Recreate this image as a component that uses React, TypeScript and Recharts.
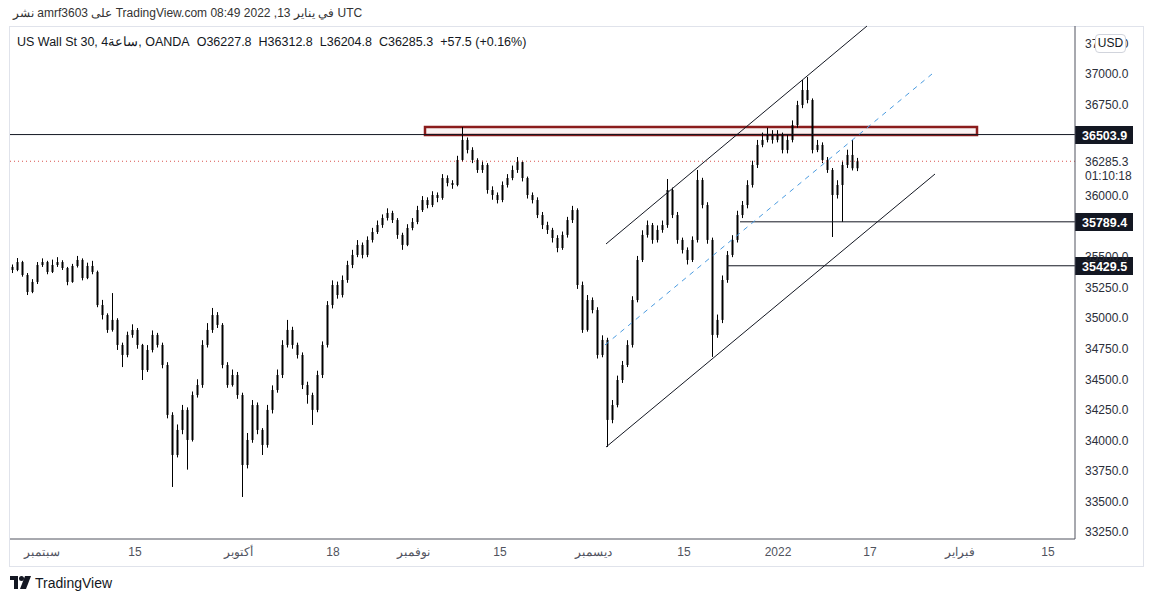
import { ComposedChart, Bar, XAxis, YAxis, ReferenceLine, ReferenceArea } from 'recharts'

// 4h candles (open = previous close)
const FIRST_OPEN = 35420
const CLOSE = [
  35395, 35460, 35354, 35215, 35297, 35436, 35460, 35379, 35436, 35460,
  35411, 35297, 35428, 35477, 35329, 35428, 35379, 35108, 35026, 34904,
  34986, 34781, 34699, 34863, 34904, 34781, 34576, 34740, 34863, 34781,
  34617, 34208, 33880, 34085, 34249, 34003, 34371, 34453, 34781, 34904,
  35026, 34945, 34617, 34453, 34535, 34371, 33798, 34003, 34289, 34085,
  33962, 34249, 34412, 34535, 34781, 34904, 34781, 34699, 34453, 34371,
  34249, 34535, 34781, 35108, 35272, 35190, 35313, 35436, 35518, 35600,
  35518, 35641, 35706, 35763, 35821, 35862, 35804, 35682, 35600, 35739,
  35788, 35886, 35968, 35927, 36009, 35985, 36148, 36107, 36091, 36296,
  36460, 36378, 36296, 36214, 36255, 36050, 36009, 35968, 36091, 36148,
  36214, 36279, 36148, 36009, 35968, 35845, 35763, 35723, 35657, 35575,
  35682, 35804, 35886, 35272, 34904, 35149, 35067, 34699, 34822, 34167,
  34289, 34494, 34617, 34781, 35149, 35477, 35682, 35763, 35641, 35723,
  35763, 36050, 35845, 35641, 35559, 35477, 35641, 36132, 35927, 35641,
  34863, 34986, 35313, 35518, 35641, 35845, 35927, 36091, 36255, 36419,
  36460, 36500, 36460, 36500, 36378, 36460, 36582, 36746, 36869, 36787,
  36378, 36419, 36296, 36214, 36009, 36091, 36255, 36337, 36228, 36285.3,
]
const HIGH = [
  35440, 35493, 35470, 35370, 35320, 35460, 35490, 35470, 35480, 35500,
  35475, 35420, 35445, 35510, 35490, 35455, 35470, 35390, 35150, 35040,
  35206, 35000, 34800, 34890, 34950, 34920, 34790, 34780, 34900, 34880,
  34800, 34640, 34230, 34130, 34290, 34270, 34400, 34500, 34820, 34960,
  35084, 35050, 34960, 34640, 34580, 34560, 34390, 34060, 34330, 34310,
  34100, 34290, 34450, 34580, 34820, 34986, 34930, 34800, 34720, 34480,
  34390, 34570, 34810, 35140, 35310, 35300, 35350, 35470, 35560, 35640,
  35620, 35670, 35740, 35800, 35850, 35900, 35880, 35820, 35700, 35770,
  35820, 35920, 36000, 35990, 36040, 36030, 36180, 36170, 36130, 36330,
  36566, 36480, 36400, 36310, 36290, 36270, 36080, 36030, 36120, 36180,
  36250, 36320, 36290, 36160, 36030, 35990, 35870, 35790, 35740, 35680,
  35710, 35830, 35920, 35900, 35300, 35190, 35170, 35090, 34860, 34840,
  34330, 34530, 34650, 34820, 35180, 35510, 35720, 35800, 35780, 35760,
  35800, 36140, 36070, 35870, 35660, 35580, 35670, 36214, 36150, 35950,
  35660, 35030, 35350, 35550, 35680, 35880, 35960, 36130, 36290, 36460,
  36520, 36560, 36540, 36540, 36520, 36500, 36620, 36780, 36951, 36975,
  36800, 36460, 36440, 36320, 36230, 36130, 36290, 36380, 36460, 36312.8,
]
const LOW = [
  35370, 35385, 35340, 35190, 35205, 35280, 35420, 35360, 35370, 35420,
  35395, 35270, 35290, 35415, 35310, 35320, 35360, 35090, 34990, 34880,
  34890, 34740, 34600, 34680, 34840, 34750, 34494, 34560, 34720, 34760,
  34590, 34180, 33618, 33860, 34050, 33760, 33990, 34350, 34430, 34760,
  34880, 34920, 34590, 34430, 34440, 34340, 33536, 33770, 33980, 34050,
  33880, 33940, 34220, 34390, 34510, 34760, 34750, 34670, 34420, 34300,
  34126, 34230, 34510, 34760, 35080, 35160, 35170, 35290, 35410, 35500,
  35490, 35500, 35620, 35690, 35740, 35800, 35780, 35650, 35560, 35590,
  35720, 35770, 35870, 35900, 35910, 35950, 35970, 36080, 36060, 36080,
  36280, 36350, 36270, 36190, 36190, 36020, 35970, 35940, 35950, 36070,
  36130, 36190, 36120, 35980, 35940, 35820, 35730, 35690, 35620, 35540,
  35560, 35660, 35780, 35240, 34880, 34890, 35040, 34670, 34680, 33946,
  34140, 34270, 34470, 34600, 34760, 35130, 35460, 35660, 35610, 35620,
  35700, 35740, 35820, 35610, 35530, 35440, 35460, 35620, 35900, 35610,
  34683, 34840, 34960, 35290, 35500, 35620, 35820, 35900, 36070, 36230,
  36400, 36440, 36430, 36440, 36350, 36350, 36440, 36560, 36720, 36760,
  36350, 36360, 36270, 36190, 35665, 35980, 35788, 36230, 36210, 36204.8,
]

// x axis: candle-index positions of the date labels
const X_TICKS = [6, 24.6, 45.2, 64.2, 80.2, 97.6, 116.2, 134.4, 153.2, 171.6, 189.6, 207.2]
const X_LABELS = ['سبتمبر', '15', 'أكتوبر', '18', 'نوفمبر', '15', 'ديسمبر', '15', '2022', '17', 'فبراير', '15']
const Y_TICKS = [
  33250, 33500, 33750, 34000, 34250, 34500, 34750, 35000, 35250, 35500,
  36000, 36750, 37000, 37250,
]

// drawings
const RESISTANCE = 36503.9
const SUPPORT_HIGH = 35789.4
const SUPPORT_LOW = 35429.5
const LAST_PRICE = 36285.3
const SUPPORT_HIGH_FROM = 145.6
const SUPPORT_LOW_FROM = 143
const ZONE = { x1: 82.6, x2: 193, y1: 36500, y2: 36566 }
const CHANNEL_TOP = [{ x: 118.8, y: 35608 }, { x: 171, y: 37393 }]
const CHANNEL_BOTTOM = [{ x: 118.8, y: 33945 }, { x: 184.6, y: 36181 }]
const CHANNEL_MID = [{ x: 118.6, y: 34781 }, { x: 184, y: 37000 }]

const X_MAX = 212.6
const Y_MIN = 33192
const Y_MAX = 37393

const FONT = '"Liberation Sans", Arial, sans-serif'

const data = CLOSE.map((c, i) => ({
  i,
  open: i === 0 ? FIRST_OPEN : CLOSE[i - 1],
  close: c,
  high: HIGH[i],
  low: LOW[i],
  range: [LOW[i], HIGH[i]],
}))

function Candle(props: any) {
  const { x, y, width, height, payload } = props
  if (x == null || !payload) return null
  const { open, close, high, low } = payload
  const cx = Math.round(x + width / 2) + 0.5
  const h = Math.abs(height)
  const top = height < 0 ? y + height : y
  const k = h / (high - low || 1)
  const bodyTop = top + (high - Math.max(open, close)) * k
  const bodyH = Math.max(1, Math.abs(open - close) * k)
  return (
    <g>
      <line x1={cx} x2={cx} y1={top} y2={top + h} stroke="#000" strokeWidth={1} />
      <rect x={cx - 1} y={bodyTop} width={2} height={bodyH} fill="#000" />
    </g>
  )
}

function PriceTag(props: any) {
  const { viewBox, text } = props
  if (!viewBox) return null
  const right = viewBox.x + viewBox.width
  const cy = Math.round(viewBox.y + (viewBox.height || 0) / 2)
  return (
    <g>
      <rect x={right} y={cy - 9} width={58} height={18} fill="#131722" />
      <text x={right + 7} y={cy + 4.5} fill="#fff" fontSize={12.5} fontWeight="bold" fontFamily={FONT}>
        {text}
      </text>
    </g>
  )
}

function LastTag(props: any) {
  const { viewBox, text, sub } = props
  if (!viewBox) return null
  const right = viewBox.x + viewBox.width
  const cy = Math.round(viewBox.y)
  return (
    <g>
      <rect x={right + 1} y={cy - 9} width={56} height={30} fill="#fff" />
      <text x={right + 10} y={cy + 5} fill="#2a2e39" fontSize={12} fontFamily={FONT}>{text}</text>
      <text x={right + 10} y={cy + 19} fill="#2a2e39" fontSize={12} fontFamily={FONT}>{sub}</text>
    </g>
  )
}

function TvLogo() {
  return (
    <svg width={22} height={14} viewBox="0 0 22 14">
      <path d="M0 0h8v13H4V4H0z" fill="#131722" />
      <circle cx={11.5} cy={2.5} r={2.5} fill="#131722" />
      <path d="M15 0h6l-5 13h-6z" fill="#131722" />
    </svg>
  )
}

export default function App() {
  return (
    <div style={{ position: 'absolute', left: 0, top: 0, width: 1153, height: 602, background: '#fff', fontFamily: FONT }}>
      <div style={{ position: 'absolute', left: 13, top: 6, fontSize: 12, color: '#333', whiteSpace: 'nowrap' }}>
        نشر amrf3603 على TradingView.com في يناير 13, 2022 08:49 UTC
      </div>
      <div style={{ position: 'absolute', left: 9, top: 26, width: 1133, height: 539, border: '1px solid #e0e3eb' }} />
      <div style={{ position: 'absolute', left: 0, top: 0 }}>
        <ComposedChart width={1153} height={602} data={data} margin={{ top: 26, right: 10, left: 10, bottom: 36 }}>
          <XAxis
            dataKey="i"
            type="number"
            domain={[-0.4, X_MAX]}
            allowDataOverflow
            ticks={X_TICKS}
            tickFormatter={(v: number) => X_LABELS[X_TICKS.indexOf(v)] ?? ''}
            interval={0}
            height={27}
            tickLine={false}
            tickSize={6}
            tickMargin={2}
            axisLine={{ stroke: '#50535e' }}
            tick={{ fill: '#50535e', fontSize: 12, fontFamily: FONT }}
          />
          <YAxis
            orientation="right"
            type="number"
            domain={[Y_MIN, Y_MAX]}
            allowDataOverflow
            ticks={Y_TICKS}
            interval={0}
            width={68}
            tickFormatter={(v: number) => v.toFixed(1)}
            tickLine={false}
            tickSize={6}
            tickMargin={4}
            axisLine={{ stroke: '#50535e' }}
            tick={{ fill: '#2a2e39', fontSize: 12, fontFamily: FONT }}
          />
          <Bar dataKey="range" barSize={3} shape={<Candle />} isAnimationActive={false} />
          <ReferenceLine y={LAST_PRICE} stroke="#d9534f" strokeDasharray="1 3" label={<LastTag text={LAST_PRICE.toFixed(1)} sub="01:10:18" />} />
          <ReferenceLine y={RESISTANCE} stroke="#131722" label={<PriceTag text={RESISTANCE.toFixed(1)} />} />
          <ReferenceLine
            segment={[{ x: SUPPORT_HIGH_FROM, y: SUPPORT_HIGH }, { x: X_MAX, y: SUPPORT_HIGH }]}
            stroke="#131722"
            ifOverflow="visible"
            label={<PriceTag text={SUPPORT_HIGH.toFixed(1)} />}
          />
          <ReferenceLine
            segment={[{ x: SUPPORT_LOW_FROM, y: SUPPORT_LOW }, { x: X_MAX, y: SUPPORT_LOW }]}
            stroke="#131722"
            ifOverflow="visible"
            label={<PriceTag text={SUPPORT_LOW.toFixed(1)} />}
          />
          <ReferenceArea
            x1={ZONE.x1}
            x2={ZONE.x2}
            y1={ZONE.y1}
            y2={ZONE.y2}
            stroke="#8b1c1c"
            strokeWidth={2.5}
            fill="#8b1c1c"
            fillOpacity={0.05}
            ifOverflow="visible"
          />
          <ReferenceLine segment={CHANNEL_TOP} stroke="#131722" ifOverflow="visible" />
          <ReferenceLine segment={CHANNEL_BOTTOM} stroke="#131722" ifOverflow="visible" />
          <ReferenceLine segment={CHANNEL_MID} stroke="#4a9be0" strokeDasharray="5 5" ifOverflow="visible" />
        </ComposedChart>
      </div>
      <div style={{ position: 'absolute', left: 17, top: 34, fontSize: 12.5, color: '#131722', whiteSpace: 'nowrap' }}>
        <span>US Wall St 30, 4ساعة, OANDA</span>
        <span style={{ marginLeft: 7 }}>O36227.8</span>
        <span style={{ marginLeft: 7 }}>H36312.8</span>
        <span style={{ marginLeft: 7 }}>L36204.8</span>
        <span style={{ marginLeft: 7 }}>C36285.3</span>
        <span style={{ marginLeft: 7 }}>+57.5 (+0.16%)</span>
      </div>
      <div
        style={{
          position: 'absolute', left: 1095, top: 34, width: 29, height: 17, border: '1px solid #d1d4dc',
          borderRadius: 4, background: '#fff', fontSize: 12, color: '#131722', textAlign: 'center', lineHeight: '17px',
        }}
      >
        USD
      </div>
      <div style={{ position: 'absolute', left: 10, top: 575, display: 'flex', alignItems: 'center', gap: 3 }}>
        <TvLogo />
        <span style={{ fontSize: 14, color: '#131722' }}>TradingView</span>
      </div>
    </div>
  )
}
